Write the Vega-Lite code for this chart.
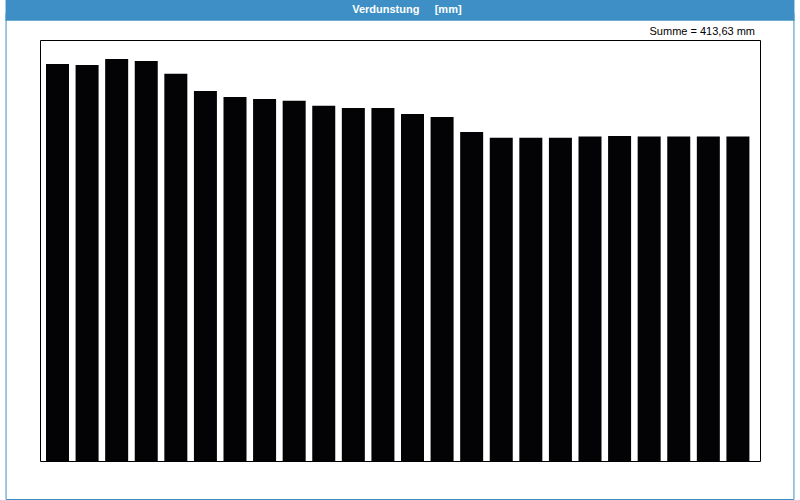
{
  "$schema": "https://vega.github.io/schema/vega-lite/v6.json",
  "autosize": {"type": "none"},
  "width": 720,
  "height": 421,
  "padding": {"left": 40, "top": 40, "right": 40, "bottom": 39},
  "background": "white",
  "config": {
    "font": "Liberation Sans",
    "view": {"stroke": "#000", "strokeWidth": 1, "fill": "white"},
    "axis": {"labelFont": "Liberation Sans", "labelFontSize": 11, "labelColor": "#000", "titleFont": "Liberation Sans", "titleFontSize": 11, "titleFontWeight": "normal", "titleColor": "#000", "domainColor": "#000", "tickColor": "#000"}
  },
  "layer": [
    {
      "data": {"values": [
        {"t": "2019-12-07T00:00:00Z", "v": 19.53},
        {"t": "2019-12-07T01:00:00Z", "v": 19.48},
        {"t": "2019-12-07T02:00:00Z", "v": 19.78},
        {"t": "2019-12-07T03:00:00Z", "v": 19.68},
        {"t": "2019-12-07T04:00:00Z", "v": 19.05},
        {"t": "2019-12-07T05:00:00Z", "v": 18.2},
        {"t": "2019-12-07T06:00:00Z", "v": 17.91},
        {"t": "2019-12-07T07:00:00Z", "v": 17.81},
        {"t": "2019-12-07T08:00:00Z", "v": 17.72},
        {"t": "2019-12-07T09:00:00Z", "v": 17.47},
        {"t": "2019-12-07T10:00:00Z", "v": 17.37},
        {"t": "2019-12-07T11:00:00Z", "v": 17.37},
        {"t": "2019-12-07T12:00:00Z", "v": 17.07},
        {"t": "2019-12-07T13:00:00Z", "v": 16.92},
        {"t": "2019-12-07T14:00:00Z", "v": 16.19},
        {"t": "2019-12-07T15:00:00Z", "v": 15.9},
        {"t": "2019-12-07T16:00:00Z", "v": 15.9},
        {"t": "2019-12-07T17:00:00Z", "v": 15.9},
        {"t": "2019-12-07T18:00:00Z", "v": 15.96},
        {"t": "2019-12-07T19:00:00Z", "v": 15.99},
        {"t": "2019-12-07T20:00:00Z", "v": 15.96},
        {"t": "2019-12-07T21:00:00Z", "v": 15.96},
        {"t": "2019-12-07T22:00:00Z", "v": 15.96},
        {"t": "2019-12-07T23:00:00Z", "v": 15.96}
      ]},
      "mark": {"type": "bar", "color": "#030205", "width": 23, "xOffset": 12.5},
      "encoding": {
        "x": {
          "field": "t",
          "type": "temporal",
          "scale": {"type": "utc", "domain": [{"year": 2019, "month": 12, "date": 7, "hours": 0, "utc": true}, {"year": 2019, "month": 12, "date": 8, "hours": 0, "utc": true}]},
          "axis": {
            "title": null,
            "values": [
              {"year": 2019, "month": 12, "date": 7, "hours": 0, "utc": true},
              {"year": 2019, "month": 12, "date": 7, "hours": 1, "utc": true},
              {"year": 2019, "month": 12, "date": 7, "hours": 2, "utc": true},
              {"year": 2019, "month": 12, "date": 7, "hours": 3, "utc": true},
              {"year": 2019, "month": 12, "date": 7, "hours": 4, "utc": true},
              {"year": 2019, "month": 12, "date": 7, "hours": 5, "utc": true},
              {"year": 2019, "month": 12, "date": 7, "hours": 6, "utc": true},
              {"year": 2019, "month": 12, "date": 7, "hours": 7, "utc": true},
              {"year": 2019, "month": 12, "date": 7, "hours": 8, "utc": true},
              {"year": 2019, "month": 12, "date": 7, "hours": 9, "utc": true},
              {"year": 2019, "month": 12, "date": 7, "hours": 10, "utc": true},
              {"year": 2019, "month": 12, "date": 7, "hours": 11, "utc": true},
              {"year": 2019, "month": 12, "date": 7, "hours": 12, "utc": true},
              {"year": 2019, "month": 12, "date": 7, "hours": 13, "utc": true},
              {"year": 2019, "month": 12, "date": 7, "hours": 14, "utc": true},
              {"year": 2019, "month": 12, "date": 7, "hours": 15, "utc": true},
              {"year": 2019, "month": 12, "date": 7, "hours": 16, "utc": true},
              {"year": 2019, "month": 12, "date": 7, "hours": 17, "utc": true},
              {"year": 2019, "month": 12, "date": 7, "hours": 18, "utc": true},
              {"year": 2019, "month": 12, "date": 7, "hours": 19, "utc": true},
              {"year": 2019, "month": 12, "date": 7, "hours": 20, "utc": true},
              {"year": 2019, "month": 12, "date": 7, "hours": 21, "utc": true},
              {"year": 2019, "month": 12, "date": 7, "hours": 22, "utc": true},
              {"year": 2019, "month": 12, "date": 7, "hours": 23, "utc": true},
              {"year": 2019, "month": 12, "date": 8, "hours": 0, "utc": true}
            ],
            "labelExpr": "utchours(datum.value) % 3 == 0 ? [utcFormat(datum.value, '%H:%M'), utcFormat(datum.value, '%d.%m.%y')] : ''",
            "labelOverlap": false,
            "labelFlush": false,
            "labelAlign": "center",
            "labelLineHeight": 16,
            "labelPadding": 3,
            "tickSize": 4,
            "grid": true,
            "gridDash": [4, 3],
            "gridColor": {"condition": {"test": "utchours(datum.value) % 3 == 0", "value": "#000"}, "value": "transparent"},
            "gridOpacity": 1
          }
        },
        "y": {
          "field": "v",
          "type": "quantitative",
          "scale": {"domain": [0, 20.71], "nice": false, "zero": true},
          "axis": {
            "title": "mm",
            "titleAngle": 0,
            "titleAlign": "right",
            "titleBaseline": "alphabetic",
            "titleX": -4,
            "titleY": 6,
            "values": [0,1,2,3,4,5,6,7,8,9,10,11,12,13,14,15,16,17,18,19,20],
            "labelExpr": "replace(format(datum.value, '.1f'), '.', ',')",
            "tickSize": 3,
            "labelPadding": 1,
            "grid": true,
            "gridDash": [4, 3],
            "gridColor": "#000",
            "gridOpacity": 1
          }
        }
      }
    },
    {
      "data": {"values": [{"label": "banner"}]},
      "mark": {"type": "rect", "color": "#3d8fc6", "clip": false},
      "encoding": {
        "x": {"datum": {"year": 2019, "month": 12, "date": 6, "hours": 22, "minutes": 40, "utc": true}, "type": "temporal", "axis": null},
        "x2": {"datum": {"year": 2019, "month": 12, "date": 8, "hours": 1, "minutes": 20, "utc": true}},
        "y": {"datum": 22.69, "type": "quantitative", "axis": null},
        "y2": {"datum": 21.66}
      }
    },
    {
      "data": {"values": [{"label": "frame"}]},
      "mark": {"type": "rect", "fill": null, "filled": false, "stroke": "#3d8fc6", "strokeWidth": 1, "clip": false},
      "encoding": {
        "x": {"datum": {"year": 2019, "month": 12, "date": 6, "hours": 22, "minutes": 41, "utc": true}, "type": "temporal", "axis": null},
        "x2": {"datum": {"year": 2019, "month": 12, "date": 8, "hours": 1, "minutes": 19, "utc": true}},
        "y": {"datum": 22.0, "type": "quantitative", "axis": null},
        "y2": {"datum": -1.894}
      }
    },
    {
      "data": {"values": [{"label": "Verdunstung\u00a0\u00a0\u00a0\u00a0\u00a0[mm]"}]},
      "mark": {"type": "text", "color": "white", "fontWeight": "bold", "fontSize": 11, "font": "Liberation Sans", "baseline": "middle", "align": "center", "clip": false},
      "encoding": {
        "x": {"datum": {"year": 2019, "month": 12, "date": 7, "hours": 12, "minutes": 14, "utc": true}, "type": "temporal", "axis": null},
        "y": {"datum": 22.17, "type": "quantitative", "axis": null},
        "text": {"field": "label", "type": "nominal"}
      }
    },
    {
      "data": {"values": [{"label": "Summe = 413,63 mm"}]},
      "mark": {"type": "text", "color": "#000", "fontSize": 11, "font": "Liberation Sans", "baseline": "alphabetic", "align": "right", "clip": false},
      "encoding": {
        "x": {"datum": {"year": 2019, "month": 12, "date": 8, "hours": 0, "utc": true}, "type": "temporal", "axis": null},
        "y": {"datum": 20.96, "type": "quantitative", "axis": null},
        "text": {"field": "label", "type": "nominal"}
      }
    }
  ]
}
